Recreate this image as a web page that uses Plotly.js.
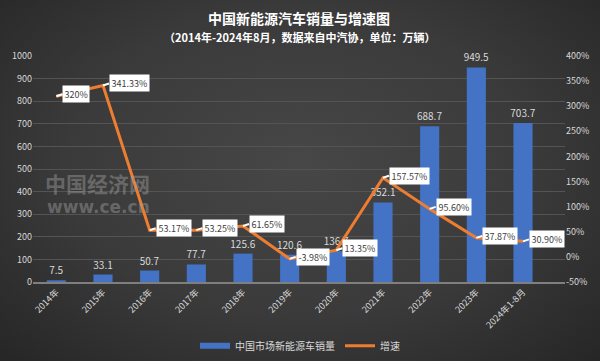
<!DOCTYPE html>
<html><head><meta charset="utf-8">
<script src="https://cdn.plot.ly/plotly-3.0.1.min.js"></script>
<style>
html,body{margin:0;padding:0;}
#chart{width:600px;height:361px;background:radial-gradient(ellipse at 50% 45%, #474747 0%, #3a3a3a 55%, #262626 100%);}
</style></head>
<body><div id="chart"></div>
<script>
const categories = ['2014年','2015年','2016年','2017年','2018年','2019年','2020年','2021年','2022年','2023年','2024年1-8月'];
const sales = [7.5, 33.1, 50.7, 77.7, 125.6, 120.6, 136.7, 352.1, 688.7, 949.5, 703.7];
const growth = [320, 341.33, 53.17, 53.25, 61.65, -3.98, 13.35, 157.57, 95.60, 37.87, 30.90];
const growthLabels = ['320%','341.33%','53.17%','53.25%','61.65%','-3.98%','13.35%','157.57%','95.60%','37.87%','30.90%'];
const leftTicks = [0,100,200,300,400,500,600,700,800,900,1000];
const rightTicks = [-50,0,50,100,150,200,250,300,350,400];

const FONT = '"Noto Sans CJK SC", "Noto Sans", sans-serif';
const txt = '#d9d9d9';

const barTrace = {
  type:'bar', x:categories, y:sales, name:'中国市场新能源车销量', showlegend:false,
  marker:{color:'#4472c4'}, width:0.41,
  text:sales.map(v=>String(v)), textposition:'outside', constraintext:'none',
  textfont:{color:txt, size:10, family:FONT}, cliponaxis:false,
  hoverinfo:'skip'
};
const barLegend = {
  type:'scatter', mode:'lines', x:[null], y:[null], name:'中国市场新能源车销量',
  line:{color:'#4472c4', width:6}, hoverinfo:'skip'
};
const lineTrace = {
  type:'scatter', mode:'lines', x:categories, y:growth, yaxis:'y2', name:'增速',
  line:{color:'#ed7d31', width:3}, hoverinfo:'skip'
};

const annotations = categories.map((c,i)=>({
  x:c, y:growth[i], xref:'x', yref:'y2', text:growthLabels[i],
  showarrow:true, arrowhead:0, arrowwidth:2, arrowcolor:'#ffffff',
  ax:6, ay:-2, xanchor:'left', yanchor:'middle', standoff:0,
  bgcolor:'#ffffff', borderpad:1.5, font:{color:'#404040', size:9, family:FONT}
}));
annotations.push({xref:'paper', yref:'paper', x:0.5, y:1, yshift:38, xanchor:'center', yanchor:'middle', showarrow:false,
  text:'<b>中国新能源汽车销量与增速图</b>', font:{color:'#ffffff', size:14, family:FONT}});
annotations.push({xref:'paper', yref:'paper', x:0.5, y:1, yshift:19, xanchor:'center', yanchor:'middle', showarrow:false,
  text:'<b>（2014年-2024年8月，数据来自中汽协，单位：万辆）</b>', font:{color:'#ffffff', size:11, family:FONT}});
annotations.push({xref:'paper', yref:'paper', x:0.018, y:0.44, xanchor:'left', yanchor:'middle', showarrow:false,
  text:'<b>中国经济网</b>', font:{color:'rgba(160,160,160,0.45)', size:21, family:FONT}});
annotations.push({xref:'paper', yref:'paper', x:0.022, y:0.33, xanchor:'left', yanchor:'middle', showarrow:false,
  text:'<b>www.ce.cn</b>', font:{color:'rgba(160,160,160,0.45)', size:17, family:'"DejaVu Sans", sans-serif'}});

const layout = {
  width:600, height:361,
  paper_bgcolor:'rgba(0,0,0,0)', plot_bgcolor:'rgba(0,0,0,0)',
  margin:{l:33, r:35, t:56, b:79, autoexpand:false},
  showlegend:true,
  legend:{orientation:'h', x:0.5, xanchor:'center', xref:'container', y:0.042, yanchor:'middle', yref:'container', itemwidth:30,
    font:{color:txt, size:10, family:FONT}, bgcolor:'rgba(0,0,0,0)'},
  xaxis:{tickangle:-45, tickfont:{color:txt, size:9, family:FONT}, showgrid:false, automargin:false,
    showline:true, linecolor:'#7f7f7f', linewidth:1.5, ticks:'', fixedrange:true},
  yaxis:{range:[0,1000], tickvals:leftTicks, tickfont:{color:txt, size:9, family:FONT}, automargin:false,
    gridcolor:'#545454', gridwidth:1, zeroline:false, showline:false, ticks:''},
  yaxis2:{overlaying:'y', side:'right', range:[-50,400], tickvals:rightTicks, automargin:false,
    ticktext:rightTicks.map(v=>v+'%'), tickfont:{color:txt, size:9, family:FONT},
    showgrid:false, zeroline:false, showline:false, ticks:''},
  annotations:annotations
};

Plotly.newPlot('chart', [barTrace, barLegend, lineTrace], layout, {displayModeBar:false, staticPlot:true});
</script></body></html>
